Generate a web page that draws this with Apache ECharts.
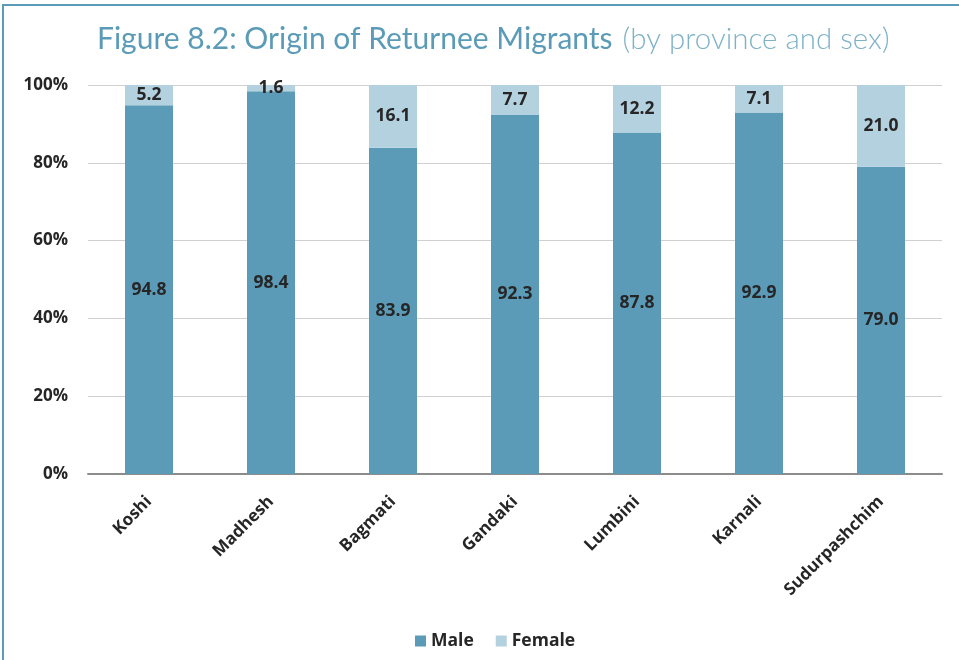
<!DOCTYPE html>
<html>
<head>
<meta charset="utf-8">
<style>
  html, body { margin: 0; padding: 0; background: #ffffff; }
  #chart { width: 959px; height: 660px; }
</style>
<script src="https://cdn.jsdelivr.net/npm/echarts@6/dist/echarts.min.js"></script>
</head>
<body>
<div id="chart"></div>
<script>
// Returnee migrants by province, share by sex (%)
const provinces = ['Koshi', 'Madhesh', 'Bagmati', 'Gandaki', 'Lumbini', 'Karnali', 'Sudurpashchim'];
const male = [94.8, 98.4, 83.9, 92.3, 87.8, 92.9, 79.0];
const female = [5.2, 1.6, 16.1, 7.7, 12.2, 7.1, 21.0];
const yTicks = [0, 20, 40, 60, 80, 100];

const MALE_COLOR = '#5b9bb7';
const FEMALE_COLOR = '#b4d1e0';
const TEXT = '#262626';
const FONT = '"Open Sans", "Liberation Sans", sans-serif';

const chart = echarts.init(document.getElementById('chart'), null, { renderer: 'canvas' });

const labelStyle = {
  show: true,
  position: 'inside',
  color: TEXT,
  fontFamily: FONT,
  fontWeight: 'bold',
  fontSize: 17.5,
  formatter: p => p.value.toFixed(1)
};

chart.setOption({
  animation: false,
  backgroundColor: '#ffffff',
  title: {
    text: '{main|Figure 8.2: Origin of Returnee Migrants}  {sub|(by province and sex)}',
    left: 92,
    top: 19,
    textStyle: {
      rich: {
        main: { fontFamily: 'Lato, "Open Sans", sans-serif', fontSize: 30, color: '#5b9bb7', fontWeight: 'normal' },
        sub: { fontFamily: 'Lato, "Open Sans", sans-serif', fontSize: 29.5, color: '#7fb2c8', fontWeight: 300 }
      }
    }
  },
  graphic: [
    {
      type: 'polyline',
      shape: { points: [[3, 660], [3, 5], [959, 5]] },
      style: { stroke: '#5b9bb7', lineWidth: 2, fill: null },
      silent: true
    }
  ],
  legend: {
    data: ['Male', 'Female'],
    bottom: 5,
    left: 410,
    itemWidth: 11,
    itemHeight: 11,
    itemGap: 22,
    icon: 'rect',
    textStyle: { fontFamily: FONT, fontWeight: 'bold', fontSize: 17.5, color: TEXT }
  },
  grid: { left: 88, right: 17, top: 85, bottom: 186, containLabel: false },
  xAxis: {
    type: 'category',
    data: provinces,
    axisTick: { show: false },
    axisLine: { lineStyle: { color: '#8c8c8c', width: 2 } },
    axisLabel: {
      rotate: 45,
      margin: 25,
      color: TEXT,
      fontFamily: FONT,
      fontWeight: 'bold',
      fontSize: 17,
      interval: 0
    }
  },
  yAxis: {
    type: 'value',
    min: yTicks[0],
    max: yTicks[yTicks.length - 1],
    interval: 20,
    axisLine: { show: false },
    axisTick: { show: false },
    splitLine: { lineStyle: { color: '#d0d0d0', width: 1 } },
    axisLabel: {
      margin: 20,
      color: TEXT,
      fontFamily: FONT,
      fontWeight: 'bold',
      fontSize: 17,
      formatter: v => v + '%'
    }
  },
  series: [
    {
      name: 'Male',
      type: 'bar',
      stack: 'total',
      data: male,
      barWidth: 48,
      itemStyle: { color: MALE_COLOR },
      label: labelStyle
    },
    {
      name: 'Female',
      type: 'bar',
      stack: 'total',
      data: female,
      barWidth: 48,
      itemStyle: { color: FEMALE_COLOR },
      label: labelStyle
    }
  ]
});
</script>
</body>
</html>
